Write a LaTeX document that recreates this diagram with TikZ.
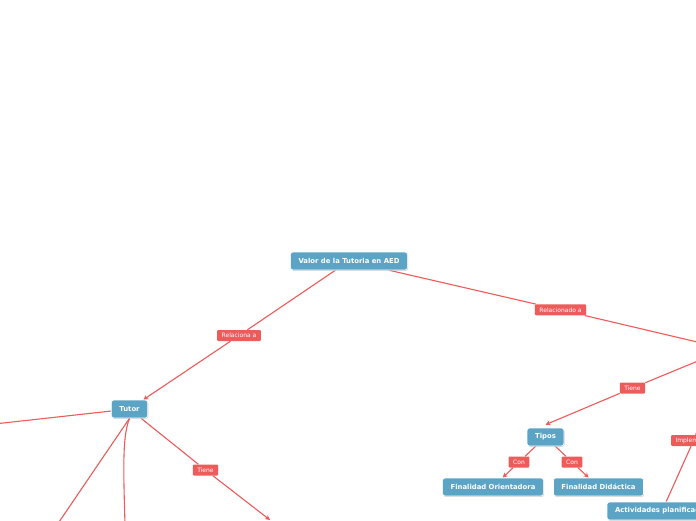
\documentclass[tikz,border=0pt]{standalone}
\usepackage{fontspec}
\setmainfont{DejaVu Sans}
\usetikzlibrary{arrows.meta,shadows,backgrounds}
\definecolor{nodeblue}{HTML}{5CA4C6}
\definecolor{labred}{HTML}{EE5B5B}
\definecolor{linered}{HTML}{EF5A5A}
\begin{document}
\begin{tikzpicture}[x=1pt,y=-1pt,
  topic/.style={fill=nodeblue, draw=white, line width=0.6pt, rounded corners=2.5pt,
    text=white, font=\fontsize{6.86}{8}\selectfont\bfseries, minimum height=18pt,
    inner xsep=8pt, inner ysep=0pt,
    drop shadow={shadow xshift=0.7pt,shadow yshift=-0.9pt,opacity=0.35}},
  lab/.style={fill=labred, rounded corners=1pt, text=white,
    font=\fontsize{6}{7}\selectfont, minimum height=11pt, inner xsep=4.5pt, inner ysep=0pt},
  conn/.style={draw=linered, line width=1.1pt},
  arr/.style={conn, -{Stealth[length=5pt,width=5pt]}}]
\useasboundingbox (0,0) rectangle (696,520);
\clip (0,0) rectangle (696,520);

% topics
\node[topic] (root) at (349,261) {Valor de la Tutoria en AED};
\node[topic] (tutor) at (129.5,409) {Tutor};
\node[topic] (tipos) at (545.5,437) {Tipos};
\node[topic] (forient) at (493,487) {Finalidad Orientadora};
\node[topic] (fdid) at (598.5,487) {Finalidad Didáctica};
\node[topic] (activ) at (662,511) {Actividades planificadas};

% off-screen ends
\coordinate (hub) at (727,349);
\coordinate (tleft) at (-60,430);
\coordinate (tdownl) at (40,550);
\coordinate (tdown) at (126,560);
\coordinate (ttiene) at (270,520);

% labels
\node[lab] (rel1) at (239,335.5) {Relaciona a};
\node[lab] (rel2) at (560.5,309.8) {Relacionado a};
\node[lab] (tiene1) at (205.5,470) {Tiene};
\node[lab] (tiene2) at (632.5,388) {Tiene};
\node[lab] (con1) at (519,462) {Con};
\node[lab] (con2) at (572,462) {Con};
\node[lab] (impl) at (693.6,440.5) {Implementa};

\begin{scope}[on background layer]
  \fill[white] (0,0) rectangle (696,520);
  \draw[conn] (root) -- (rel1);
  \draw[arr] (rel1) -- (tutor);
  \draw[conn] (root) -- (rel2);
  \draw[conn] (rel2) -- (hub);
  \draw[conn] (hub) -- (tiene2);
  \draw[arr] (tiene2) -- ([yshift=3pt]tipos.north);
  \draw[conn] (tipos) -- (con1);
  \draw[arr] (con1) -- (forient);
  \draw[conn] (tipos) -- (con2);
  \draw[arr] (con2) -- (fdid);
  \draw[conn] (hub) -- (impl);
  \draw[conn] (impl) -- (activ);
  \draw[conn] (tutor) -- (tleft);
  \draw[conn] (tutor.south) -- (tdownl);
  \draw[conn] (tutor.south) .. controls (121,440) and (124,480) .. (tdown);
  \draw[conn] (tutor) -- (tiene1);
  \draw[arr] (tiene1) -- (ttiene);
\end{scope}
\end{tikzpicture}
\end{document}
